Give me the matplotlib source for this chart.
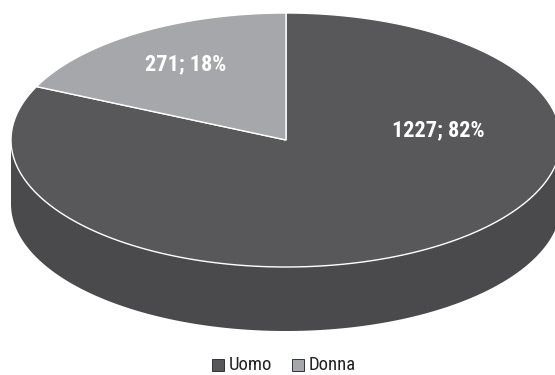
import numpy as np
import matplotlib.pyplot as plt
from matplotlib.patches import Polygon, Rectangle

# data
categories = ['Uomo', 'Donna']
values = [1227, 271]
colors_top = ['#58585a', '#a6a7aa']
colors_side = ['#4a4a4c', '#8e8f92']

plt.rcParams['font.family'] = ['Roboto Condensed', 'PT Sans Narrow', 'Archivo Narrow', 'DejaVu Sans']

W, H = 555, 375
fig = plt.figure(figsize=(W / 100, H / 100), dpi=100)
ax = fig.add_axes([0, 0, 1, 1])
ax.set_xlim(0, W)
ax.set_ylim(H, 0)
ax.axis('off')

# ellipse geometry (pixels)
cx, cy = 286, 140
a, b = 275, 127
depth = 64


def pt(theta, dy=0.0):
    return cx + a * np.cos(theta), cy - b * np.sin(theta) + dy


total = sum(values)
fracs = [v / total for v in values]
start = np.pi / 2
d_end = start + 2 * np.pi * fracs[1]
angles = {
    'Donna': (start, d_end),
    'Uomo': (d_end, start + 2 * np.pi),
}

# side wall
t = np.linspace(np.pi, 2 * np.pi, 200)
xs, ys = pt(t)
xb, yb = pt(t[::-1], depth)
side = np.column_stack([np.concatenate([xs, xb]), np.concatenate([ys, yb])])
ax.add_patch(Polygon(side, closed=True, facecolor=colors_side[0], edgecolor='none'))

# top wedges
for i, name in enumerate(categories):
    t0, t1 = angles[name]
    t = np.linspace(t0, t1, 300)
    x, y = pt(t)
    poly = np.column_stack([np.concatenate([[cx], x]), np.concatenate([[cy], y])])
    ax.add_patch(Polygon(poly, closed=True, facecolor=colors_top[i],
                         edgecolor='white', linewidth=1.0, joinstyle='miter'))

# labels
label_pos = {'Uomo': (438, 136), 'Donna': (186, 70)}
for name, v, f in zip(categories, values, fracs):
    x, y = label_pos[name]
    ax.text(x, y, f'{v}; {round(f * 100)}%', color='white', fontsize=16,
            fontweight='bold', ha='center', va='baseline')

# legend
leg_x = [212, 292]
for i, name in enumerate(categories):
    ax.add_patch(Rectangle((leg_x[i], 359), 12, 12, facecolor=colors_top[i],
                           edgecolor='#333333', linewidth=0.7))
    ax.text(leg_x[i] + 17, 370.5, name, color='#222222', fontsize=13.5,
            ha='left', va='baseline')

fig.savefig('out.png', dpi=100)
